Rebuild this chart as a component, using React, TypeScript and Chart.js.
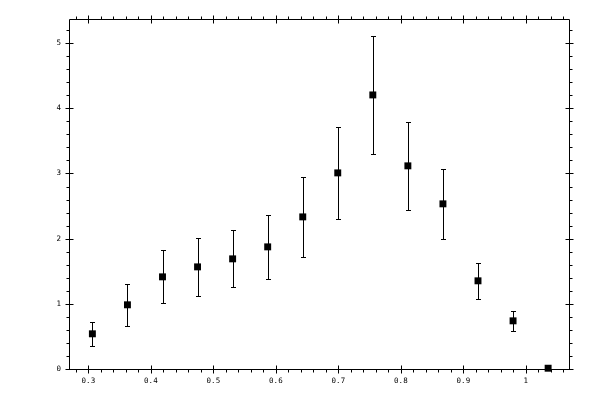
import React, { useEffect, useRef } from 'react';
import { Chart, registerables } from 'chart.js';

Chart.register(...registerables);

// bin centres, measured values and their errors
const xValues = [0.3064, 0.3625, 0.4186, 0.4747, 0.5308, 0.5869, 0.643, 0.699, 0.7551, 0.8112, 0.8673, 0.9234, 0.9795, 1.0356];
const yValues = [0.54, 0.985, 1.414, 1.567, 1.69, 1.874, 2.334, 3.009, 4.205, 3.117, 2.534, 1.353, 0.739, 0.012];
const yErrors = [0.184, 0.322, 0.407, 0.445, 0.438, 0.494, 0.614, 0.703, 0.905, 0.672, 0.542, 0.273, 0.158, 0.0];

const xTicks = [0.3, 0.4, 0.5, 0.6, 0.7, 0.8, 0.9, 1];
const yTicks = [0, 1, 2, 3, 4, 5];
const xMinorStep = 0.02;
const yMinorStep = 0.2;

const X_MIN = 0.269;
const X_MAX = 1.069;
const Y_MIN = 0;
const Y_MAX = 5.37;

const fmt = (v: number) => String(Math.round(v * 10) / 10);

// error bars, drawn behind the markers
const errorBarPlugin = {
  id: 'errorBars',
  beforeDatasetsDraw(chart: any) {
    const { ctx } = chart;
    const xs = chart.scales.x;
    const ys = chart.scales.y;
    ctx.save();
    ctx.strokeStyle = '#000';
    ctx.lineWidth = 1;
    xValues.forEach((xv, i) => {
      const e = yErrors[i];
      if (!e) return;
      const px = Math.round(xs.getPixelForValue(xv)) + 0.5;
      const top = Math.round(ys.getPixelForValue(yValues[i] + e)) + 0.5;
      const bot = Math.round(ys.getPixelForValue(yValues[i] - e)) + 0.5;
      ctx.beginPath();
      ctx.moveTo(px, top);
      ctx.lineTo(px, bot);
      ctx.moveTo(px - 2.5, top);
      ctx.lineTo(px + 2.5, top);
      ctx.moveTo(px - 2.5, bot);
      ctx.lineTo(px + 2.5, bot);
      ctx.stroke();
    });
    ctx.restore();
  },
};

// frame with major ticks crossing it and minor ticks pointing out, on all four sides
const framePlugin = {
  id: 'frameTicks',
  afterDraw(chart: any) {
    const { ctx, chartArea: a } = chart;
    const xs = chart.scales.x;
    const ys = chart.scales.y;
    const L = Math.round(a.left) + 0.5;
    const R = Math.round(a.right) + 0.5;
    const T = Math.round(a.top) + 0.5;
    const B = Math.round(a.bottom) + 0.5;
    ctx.save();
    ctx.strokeStyle = '#000';
    ctx.lineWidth = 1;
    ctx.beginPath();
    ctx.rect(L, T, R - L, B - T);
    ctx.stroke();
    ctx.beginPath();
    const isMajor = (v: number, list: number[]) => list.some((t) => Math.abs(t - v) < 1e-6);
    for (let k = Math.ceil(X_MIN / xMinorStep); k * xMinorStep <= X_MAX + 1e-9; k++) {
      const v = k * xMinorStep;
      const p = Math.round(xs.getPixelForValue(v)) + 0.5;
      if (isMajor(v, xTicks)) {
        ctx.moveTo(p, B - 4); ctx.lineTo(p, B + 4);
        ctx.moveTo(p, T - 4); ctx.lineTo(p, T + 4);
      } else {
        ctx.moveTo(p, B); ctx.lineTo(p, B + 3);
        ctx.moveTo(p, T); ctx.lineTo(p, T - 3);
      }
    }
    for (let k = Math.ceil(Y_MIN / yMinorStep); k * yMinorStep <= Y_MAX + 1e-9; k++) {
      const v = k * yMinorStep;
      const p = Math.round(ys.getPixelForValue(v)) + 0.5;
      if (isMajor(v, yTicks)) {
        ctx.moveTo(L - 4, p); ctx.lineTo(L + 4, p);
        ctx.moveTo(R - 4, p); ctx.lineTo(R + 4, p);
      } else {
        ctx.moveTo(L, p); ctx.lineTo(L - 3, p);
        ctx.moveTo(R, p); ctx.lineTo(R + 3, p);
      }
    }
    ctx.stroke();
    ctx.restore();
  },
};

export default function App() {
  const canvasRef = useRef<HTMLCanvasElement>(null);

  useEffect(() => {
    document.body.style.margin = '0';
    const ctx = canvasRef.current?.getContext('2d');
    if (!ctx) return;

    const tickFont = { family: '"DejaVu Sans Mono", monospace', size: 7.5 };

    const chart = new Chart(ctx, {
      type: 'scatter',
      data: {
        datasets: [
          {
            data: xValues.map((x, i) => ({ x, y: yValues[i] })),
            pointStyle: 'rect',
            pointRadius: 4.9,
            pointBorderWidth: 0,
            backgroundColor: '#000',
            borderColor: '#000',
            showLine: false,
            clip: false,
          } as any,
        ],
      },
      options: {
        animation: false,
        responsive: false,
        events: [],
        layout: { padding: { top: 19, right: 31, left: 0, bottom: 0 } },
        plugins: { legend: { display: false }, tooltip: { enabled: false } },
        scales: {
          x: {
            type: 'linear',
            min: X_MIN,
            max: X_MAX,
            afterBuildTicks: (s: any) => { s.ticks = xTicks.map((value) => ({ value })); },
            afterFit: (s: any) => { s.height = 31; },
            grid: { display: false, drawTicks: false },
            border: { display: false },
            ticks: { color: '#000', font: tickFont, padding: 8, maxRotation: 0, autoSkip: false, callback: (v: any) => fmt(Number(v)) },
          },
          y: {
            type: 'linear',
            min: Y_MIN,
            max: Y_MAX,
            afterBuildTicks: (s: any) => { s.ticks = yTicks.map((value) => ({ value })); },
            afterFit: (s: any) => { s.width = 69; },
            grid: { display: false, drawTicks: false },
            border: { display: false },
            ticks: { color: '#000', font: tickFont, padding: 8, autoSkip: false, callback: (v: any) => fmt(Number(v)) },
          },
        },
      },
      plugins: [errorBarPlugin, framePlugin],
    });

    return () => chart.destroy();
  }, []);

  return (
    <div style={{ width: 600, height: 400, background: '#fff' }}>
      <canvas ref={canvasRef} width={600} height={400} />
    </div>
  );
}
